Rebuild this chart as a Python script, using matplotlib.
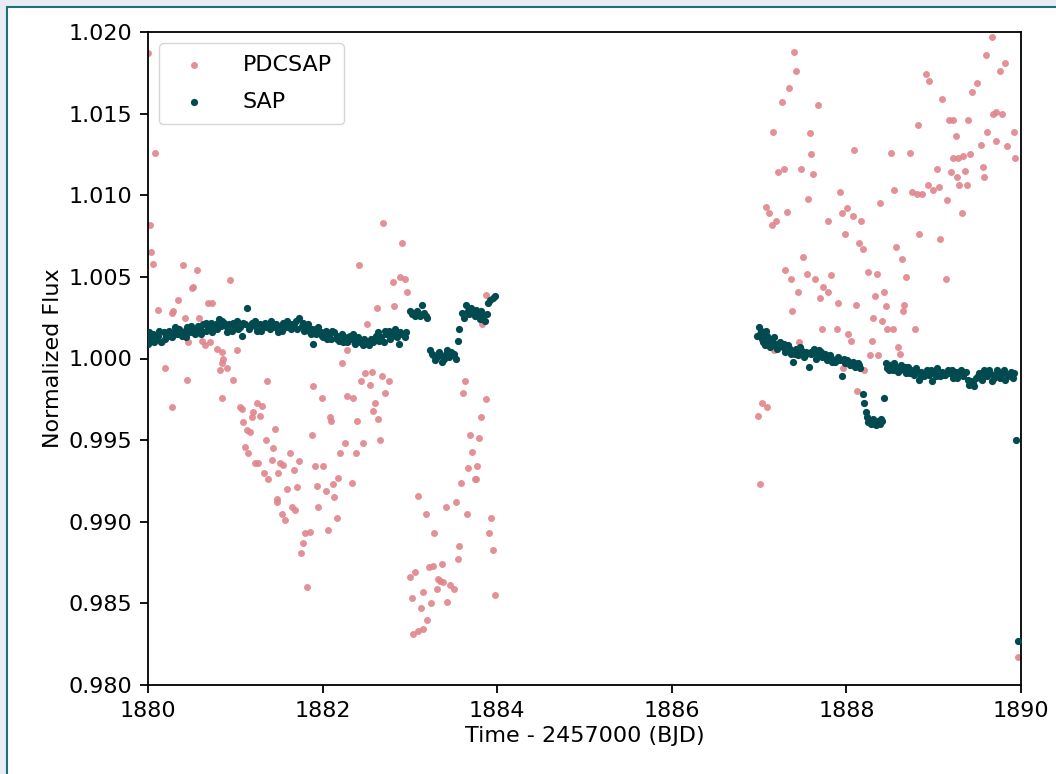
import numpy as np
import matplotlib
matplotlib.use("Agg")
from matplotlib import pyplot as plt
from matplotlib.patches import Rectangle

# PDCSAP flux (time - 2457000, normalized flux)
#--------------------------------------------------------------------------
pdc_time = [
    1880.00, 1880.08, 1880.02, 1880.04, 1880.06, 1880.40, 1880.56, 1880.52,
    1880.50, 1880.94, 1880.11, 1880.27, 1880.29, 1880.34, 1880.69, 1880.73,
    1880.42, 1880.58, 1880.46, 1880.62, 1880.65, 1880.71, 1880.79, 1880.16,
    1882.69, 1882.91, 1882.42, 1882.81, 1882.89, 1882.94, 1882.97, 1882.62,
    1882.82, 1882.51, 1882.74, 1880.19, 1880.45, 1880.28, 1880.85, 1880.86,
    1880.85, 1880.82, 1880.90, 1881.02, 1880.97, 1880.85, 1881.05, 1881.08,
    1881.25, 1881.31, 1881.20, 1881.19, 1881.28, 1881.09, 1881.13, 1881.17,
    1881.45, 1881.36, 1881.35, 1881.11, 1881.15, 1881.43, 1881.63, 1881.23,
    1881.26, 1881.42, 1881.51, 1881.55, 1881.73, 1881.33, 1881.38, 1881.49,
    1881.67, 1881.59, 1881.71, 1881.48, 1881.48, 1881.53, 1881.57, 1881.65,
    1881.68, 1881.80, 1881.85, 1881.77, 1881.75, 1881.82, 1881.89, 1881.99,
    1881.88, 1882.08, 1882.10, 1881.91, 1882.00, 1881.94, 1882.04, 1881.95,
    1882.12, 1882.18, 1882.13, 1882.16, 1882.06, 1882.20, 1882.26, 1882.22,
    1882.28, 1882.35, 1882.39, 1882.38, 1882.46, 1882.34, 1882.44, 1882.49,
    1882.57, 1882.54, 1882.68, 1882.76, 1882.72, 1882.60, 1882.58, 1882.64,
    1882.66, 1882.28, 1882.31, 1883.09, 1883.18, 1883.28, 1883.00, 1883.06,
    1883.22, 1883.26, 1883.15, 1883.02, 1883.13, 1883.24, 1883.20, 1883.04,
    1883.09, 1883.15, 1883.32, 1883.31, 1883.69, 1883.79, 1883.71, 1883.67,
    1883.77, 1883.74, 1883.76, 1883.59, 1883.41, 1883.53, 1883.65, 1883.93,
    1883.91, 1883.95, 1883.56, 1883.55, 1883.37, 1883.34, 1883.38, 1883.46,
    1883.51, 1883.42, 1883.97, 1883.87, 1883.83, 1883.63, 1883.61, 1883.87,
    1883.81,
    1887.40, 1887.42, 1887.34, 1887.26, 1887.67, 1887.16, 1887.58, 1887.60,
    1888.09, 1887.22, 1887.28, 1887.48, 1887.62, 1888.51, 1888.73, 1888.82,
    1888.91, 1888.95, 1889.10, 1889.17, 1889.22, 1889.39, 1889.26, 1889.44,
    1889.50, 1889.60, 1889.67, 1889.76, 1889.82, 1889.68, 1889.71, 1889.78,
    1889.92, 1889.93, 1889.61, 1889.71, 1889.84, 1889.54, 1889.22, 1889.28,
    1889.34, 1889.42, 1889.04, 1889.20, 1889.27, 1889.36, 1889.56, 1889.58,
    1889.29, 1889.38, 1888.93, 1889.06, 1888.99, 1888.75, 1888.81, 1888.87,
    1888.55, 1889.15, 1889.32, 1888.39, 1887.93, 1887.56, 1887.08, 1887.11,
    1887.15, 1887.19, 1887.32, 1887.95, 1888.01, 1888.08, 1888.17, 1887.79,
    1887.98, 1888.83, 1889.07, 1888.14, 1888.19, 1888.57, 1888.64, 1887.50,
    1889.14, 1888.68, 1887.30, 1887.37, 1887.55, 1887.64, 1887.82, 1888.25,
    1888.35, 1887.45, 1887.73, 1887.79, 1887.70, 1887.90, 1888.11, 1888.33,
    1888.43, 1888.45, 1888.66, 1888.65, 1887.38, 1888.30, 1888.41, 1887.72,
    1887.89, 1888.46, 1888.53, 1888.79, 1888.02, 1888.05, 1888.29, 1887.46,
    1887.17, 1888.59, 1888.61, 1888.27, 1888.36, 1888.20, 1887.96, 1888.12,
    1887.03, 1887.09, 1886.99, 1888.71, 1887.01, 1889.96,
]
pdc_flux = [
    1.0187, 1.0126, 1.0082, 1.0065, 1.0058, 1.0057, 1.0054, 1.0044,
    1.0043, 1.0048, 1.0030, 1.0028, 1.0029, 1.0036, 1.0034, 1.0034,
    1.0025, 1.0025, 1.0010, 1.0011, 1.0008, 1.0010, 1.0006, 1.0010,
    1.0083, 1.0071, 1.0057, 1.0047, 1.0050, 1.0049, 1.0041, 1.0031,
    1.0032, 1.0021, 1.0016, 0.9994, 0.9987, 0.9970, 1.0004, 1.0000,
    0.9997, 0.9993, 0.9994, 1.0005, 0.9987, 0.9976, 0.9970, 0.9969,
    0.9973, 0.9971, 0.9967, 0.9964, 0.9965, 0.9961, 0.9956, 0.9955,
    0.9957, 0.9986, 0.9950, 0.9946, 0.9942, 0.9945, 0.9942, 0.9936,
    0.9936, 0.9938, 0.9936, 0.9935, 0.9937, 0.9930, 0.9926, 0.9930,
    0.9932, 0.9920, 0.9921, 0.9914, 0.9912, 0.9905, 0.9901, 0.9909,
    0.9907, 0.9893, 0.9894, 0.9887, 0.9881, 0.9860, 0.9983, 0.9976,
    0.9953, 0.9964, 0.9962, 0.9934, 0.9934, 0.9922, 0.9919, 0.9909,
    0.9923, 0.9927, 0.9915, 0.9902, 0.9895, 0.9942, 0.9948, 0.9997,
    0.9977, 0.9976, 0.9962, 0.9942, 0.9948, 0.9924, 0.9986, 0.9991,
    0.9992, 0.9984, 0.9989, 0.9986, 0.9979, 0.9973, 0.9968, 0.9963,
    0.9950, 1.0005, 1.0011, 0.9916, 0.9905, 0.9893, 0.9866, 0.9869,
    0.9872, 0.9873, 0.9857, 0.9853, 0.9847, 0.9850, 0.9840, 0.9831,
    0.9833, 0.9834, 0.9865, 0.9859, 0.9953, 0.9951, 0.9943, 0.9933,
    0.9934, 0.9926, 0.9926, 0.9924, 0.9909, 0.9912, 0.9905, 0.9902,
    0.9893, 0.9883, 0.9885, 0.9877, 0.9874, 0.9864, 0.9863, 0.9861,
    0.9859, 0.9851, 0.9855, 1.0039, 1.0021, 0.9986, 0.9979, 0.9975,
    0.9964,
    1.0188, 1.0176, 1.0166, 1.0157, 1.0155, 1.0139, 1.0138, 1.0125,
    1.0128, 1.0114, 1.0116, 1.0116, 1.0113, 1.0126, 1.0126, 1.0143,
    1.0174, 1.0170, 1.0159, 1.0146, 1.0146, 1.0146, 1.0136, 1.0163,
    1.0169, 1.0186, 1.0197, 1.0176, 1.0181, 1.0150, 1.0151, 1.0150,
    1.0139, 1.0123, 1.0139, 1.0133, 1.0130, 1.0131, 1.0123, 1.0123,
    1.0124, 1.0125, 1.0116, 1.0114, 1.0111, 1.0115, 1.0117, 1.0111,
    1.0106, 1.0106, 1.0106, 1.0105, 1.0103, 1.0102, 1.0101, 1.0101,
    1.0103, 1.0097, 1.0089, 1.0095, 1.0102, 1.0098, 1.0093, 1.0089,
    1.0082, 1.0084, 1.0090, 1.0089, 1.0092, 1.0087, 1.0084, 1.0084,
    1.0076, 1.0076, 1.0073, 1.0071, 1.0067, 1.0068, 1.0061, 1.0062,
    1.0049, 1.0050, 1.0054, 1.0049, 1.0052, 1.0049, 1.0051, 1.0053,
    1.0052, 1.0041, 1.0044, 1.0041, 1.0037, 1.0034, 1.0033, 1.0038,
    1.0041, 1.0032, 1.0033, 1.0029, 1.0029, 1.0025, 1.0023, 1.0018,
    1.0018, 1.0018, 1.0018, 1.0018, 1.0015, 1.0011, 1.0011, 1.0010,
    1.0005, 1.0007, 1.0003, 1.0002, 1.0002, 0.9993, 0.9994, 0.9980,
    0.9973, 0.9970, 0.9965, 0.9991, 0.9923, 0.9817,
]

# SAP flux (time - 2457000, normalized flux)
#--------------------------------------------------------------------------
sap_time = [
    1880.00, 1880.02, 1880.04, 1880.06, 1880.09, 1880.12, 1880.15, 1880.18,
    1880.21, 1880.24, 1880.27, 1880.30, 1880.33, 1880.36, 1880.39, 1880.42,
    1880.45, 1880.48, 1880.51, 1880.54, 1880.57, 1880.60, 1880.63, 1880.66,
    1880.69, 1880.72, 1880.75, 1880.78, 1880.81, 1880.84, 1880.87, 1880.90,
    1880.93, 1880.96, 1880.99, 1881.02, 1881.05, 1881.08, 1881.11, 1881.13,
    1881.16, 1881.19, 1881.22, 1881.25, 1881.28, 1881.31, 1881.34, 1881.37,
    1881.40, 1881.43, 1881.46, 1881.49, 1881.52, 1881.55, 1881.58, 1881.61,
    1881.64, 1881.67, 1881.70, 1881.73, 1881.76, 1881.79, 1881.82, 1881.85,
    1881.88, 1881.89, 1881.92, 1881.95, 1881.98, 1882.01, 1882.04, 1882.07,
    1882.10, 1882.13, 1882.16, 1882.19, 1882.22, 1882.25, 1882.28, 1882.31,
    1882.34, 1882.37, 1882.40, 1882.43, 1882.46, 1882.49, 1882.52, 1882.55,
    1882.58, 1882.61, 1882.64, 1882.67, 1882.70, 1882.73, 1882.76, 1882.79,
    1882.82, 1882.85, 1882.88, 1882.91, 1882.94,
    1880.01, 1880.07, 1880.13, 1880.19, 1880.25, 1880.31, 1880.37, 1880.43,
    1880.49, 1880.55, 1880.61, 1880.67, 1880.73, 1880.79, 1880.85, 1880.91,
    1880.97, 1881.03, 1881.09, 1881.17, 1881.23, 1881.29, 1881.35, 1881.41,
    1881.47, 1881.53, 1881.59, 1881.65, 1881.71, 1881.77, 1881.83, 1881.87,
    1881.93, 1881.99, 1882.05, 1882.11, 1882.17, 1882.23, 1882.29, 1882.35,
    1882.41, 1882.47, 1882.53, 1882.59, 1882.65, 1882.71, 1882.77, 1882.83,
    1882.89, 1882.95,
    1883.00, 1883.02, 1883.04, 1883.06, 1883.08, 1883.10, 1883.12, 1883.14,
    1883.16, 1883.18, 1883.20, 1883.23, 1883.25, 1883.27, 1883.29, 1883.31,
    1883.33, 1883.35, 1883.37, 1883.39, 1883.41, 1883.43, 1883.45, 1883.47,
    1883.49, 1883.51, 1883.53, 1883.55, 1883.56, 1883.60, 1883.62, 1883.64,
    1883.66, 1883.68, 1883.70, 1883.72, 1883.74, 1883.76, 1883.78, 1883.80,
    1883.82, 1883.84, 1883.86, 1883.88, 1883.90, 1883.92, 1883.95, 1883.97,
    1886.98, 1887.00, 1887.02, 1887.03, 1887.05, 1887.07, 1887.09, 1887.11,
    1887.13, 1887.15, 1887.18, 1887.21, 1887.24, 1887.27, 1887.30, 1887.33,
    1887.36, 1887.39, 1887.42, 1887.45, 1887.48, 1887.51, 1887.54, 1887.57,
    1887.60, 1887.63, 1887.66, 1887.69, 1887.72, 1887.75, 1887.78, 1887.81,
    1887.84, 1887.87, 1887.90, 1887.93, 1887.95, 1887.98, 1888.01, 1888.04,
    1888.07, 1888.10, 1888.13, 1888.16, 1888.19, 1888.20, 1888.22, 1888.24,
    1888.26, 1888.28, 1888.30, 1888.32, 1888.34, 1888.36, 1888.38, 1888.40,
    1888.43, 1888.45, 1888.47, 1888.50, 1888.53, 1888.56, 1888.59, 1888.62,
    1888.65, 1888.68, 1888.71, 1888.74, 1888.77, 1888.80, 1888.83, 1888.86,
    1888.89, 1888.92, 1888.95, 1888.98, 1889.01, 1889.04, 1889.07, 1889.10,
    1889.13, 1889.16, 1889.19, 1889.22, 1889.25, 1889.28, 1889.31, 1889.34,
    1889.37, 1889.40, 1889.43, 1889.46, 1889.49, 1889.52, 1889.55, 1889.58,
    1889.61, 1889.64, 1889.67, 1889.70, 1889.73, 1889.76, 1889.79, 1889.82,
    1889.85, 1889.88, 1889.91, 1889.94, 1889.96,
    1887.01, 1887.04, 1887.08, 1887.12, 1887.17, 1887.23, 1887.29, 1887.35,
    1887.41, 1887.47, 1887.53, 1887.59, 1887.65, 1887.71, 1887.77, 1887.83,
    1887.89, 1887.97, 1888.03, 1888.09, 1888.15, 1888.25, 1888.29, 1888.33,
    1888.37, 1888.41, 1888.49, 1888.55, 1888.61, 1888.67, 1888.73, 1888.79,
    1888.85, 1888.91, 1888.97, 1889.03, 1889.09, 1889.15, 1889.21, 1889.27,
    1889.33, 1889.39, 1889.45, 1889.51, 1889.57, 1889.63, 1889.69, 1889.75,
    1889.81, 1889.87, 1889.92,
]
sap_flux = [
    1.0009, 1.0013, 1.0011, 1.0015, 1.0012, 1.0014, 1.0010, 1.0016,
    1.0014, 1.0017, 1.0013, 1.0016, 1.0015, 1.0018, 1.0014, 1.0017,
    1.0019, 1.0016, 1.0018, 1.0015, 1.0020, 1.0018, 1.0021, 1.0017,
    1.0019, 1.0022, 1.0018, 1.0021, 1.0024, 1.0020, 1.0022, 1.0019,
    1.0021, 1.0017, 1.0020, 1.0023, 1.0019, 1.0014, 1.0021, 1.0031,
    1.0018, 1.0022, 1.0020, 1.0017, 1.0021, 1.0019, 1.0022, 1.0020,
    1.0018, 1.0021, 1.0019, 1.0016, 1.0020, 1.0022, 1.0019, 1.0021,
    1.0018, 1.0020, 1.0023, 1.0025, 1.0020, 1.0017, 1.0019, 1.0016,
    1.0018, 1.0009, 1.0015, 1.0019, 1.0016, 1.0013, 1.0017, 1.0015,
    1.0012, 1.0016, 1.0014, 1.0011, 1.0015, 1.0013, 1.0010, 1.0014,
    1.0012, 1.0009, 1.0013, 1.0010, 1.0008, 1.0011, 1.0009, 1.0012,
    1.0010, 1.0014, 1.0016, 1.0013, 1.0010, 1.0015, 1.0017, 1.0014,
    1.0016, 1.0013, 1.0009, 1.0015, 1.0013,
    1.0016, 1.0010, 1.0017, 1.0012, 1.0014, 1.0019, 1.0015, 1.0013,
    1.0020, 1.0017, 1.0015, 1.0022, 1.0016, 1.0018, 1.0023, 1.0016,
    1.0022, 1.0018, 1.0022, 1.0020, 1.0023, 1.0017, 1.0019, 1.0023,
    1.0021, 1.0017, 1.0023, 1.0021, 1.0018, 1.0022, 1.0021, 1.0015,
    1.0018, 1.0014, 1.0012, 1.0017, 1.0012, 1.0010, 1.0013, 1.0015,
    1.0011, 1.0012, 1.0008, 1.0012, 1.0011, 1.0017, 1.0012, 1.0018,
    1.0016, 1.0016,
    1.0029, 1.0027, 1.0028, 1.0026, 1.0029, 1.0027, 1.0026, 1.0033,
    1.0028, 1.0026, 1.0025, 1.0005, 1.0003, 1.0002, 0.9999, 1.0001,
    1.0004, 1.0002, 0.9998, 1.0000, 1.0003, 1.0005, 1.0001, 1.0004,
    1.0002, 1.0003, 1.0000, 1.0011, 1.0018, 1.0028, 1.0025, 1.0033,
    1.0029, 1.0027, 1.0031, 1.0028, 1.0026, 1.0030, 1.0027, 1.0024,
    1.0029, 1.0026, 1.0023, 1.0027, 1.0034, 1.0036, 1.0037, 1.0038,
    1.0014, 1.0019, 1.0017, 1.0012, 1.0016, 1.0008, 1.0014, 1.0011,
    1.0007, 1.0012, 1.0009, 1.0006, 1.0010, 1.0007, 1.0004, 1.0008,
    1.0003, 0.9998, 1.0006, 1.0002, 1.0005, 1.0001, 1.0004, 0.9995,
    1.0003, 1.0006, 1.0002, 1.0005, 1.0001, 1.0003, 0.9999, 1.0002,
    1.0000, 0.9998, 1.0001, 0.9999, 0.9989, 0.9997, 0.9999, 0.9996,
    0.9998, 0.9995, 0.9997, 0.9994, 0.9978, 0.9973, 0.9967, 0.9964,
    0.9962, 0.9960, 0.9963, 0.9961, 0.9959, 0.9962, 0.9960, 0.9963,
    0.9976, 0.9997, 0.9994, 0.9996, 0.9993, 0.9995, 0.9992, 0.9996,
    0.9994, 0.9991, 0.9995, 0.9993, 0.9990, 0.9994, 0.9987, 0.9992,
    0.9989, 0.9993, 0.9990, 0.9986, 0.9991, 0.9994, 0.9989, 0.9992,
    0.9990, 0.9993, 0.9991, 0.9988, 0.9992, 0.9990, 0.9993, 0.9989,
    0.9992, 0.9984, 0.9986, 0.9983, 0.9988, 0.9991, 0.9987, 0.9993,
    0.9989, 0.9991, 0.9986, 0.9990, 0.9993, 0.9988, 0.9991, 0.9987,
    0.9990, 0.9992, 0.9988, 0.9950, 0.9827,
    1.0015, 1.0010, 1.0017, 1.0009, 1.0013, 1.0008, 1.0009, 1.0006,
    1.0003, 1.0007, 1.0002, 1.0004, 1.0000, 1.0004, 1.0002, 0.9998,
    0.9999, 1.0000, 0.9998, 0.9997, 0.9996, 0.9961, 0.9962, 0.9960,
    0.9961, 0.9962, 0.9993, 0.9997, 0.9993, 0.9995, 0.9991, 0.9992,
    0.9989, 0.9991, 0.9993, 0.9989, 0.9990, 0.9991, 0.9993, 0.9988,
    0.9991, 0.9987, 0.9985, 0.9989, 0.9990, 0.9993, 0.9988, 0.9991,
    0.9993, 0.9989, 0.9991,
]

pdc_color = '#e0858c'
sap_color = '#004a50'


def main():

    plt.rcParams['font.family'] = ['DejaVu Sans']
    plt.rcParams['font.size'] = 16
    plt.rcParams['axes.linewidth'] = 1.3
    for axis in ['xtick', 'ytick']:
        plt.rcParams[axis + '.major.size'] = 5.6
        plt.rcParams[axis + '.major.width'] = 1.3
        plt.rcParams[axis + '.major.pad'] = 5.6

    fig = plt.figure(figsize=(10.56, 7.74), dpi=100)
    fig.patch.set_facecolor('#e8eaf4')

    # white panel with a teal edge, page-style framing
    panel = Rectangle((7/1056, -0.05), 1.1, 1 - 7/774 + 0.05,
                      transform=fig.transFigure, facecolor='white',
                      edgecolor='#1f6e78', linewidth=1.5, zorder=-10)
    fig.patches.append(panel)

    ax = fig.add_axes([148/1056, 1 - 685/774, (1021 - 148)/1056, (685 - 32)/774])
    ax.scatter(pdc_time, pdc_flux, s=25, color=pdc_color, alpha=0.9,
               linewidths=0, label='PDCSAP', zorder=2)
    ax.scatter(sap_time, sap_flux, s=27, color=sap_color,
               linewidths=0, label='SAP', zorder=3)

    ax.set_xlim(1880, 1890)
    ax.set_ylim(0.980, 1.020)
    ax.set_xticks([1880, 1882, 1884, 1886, 1888, 1890])
    ax.set_yticks(np.arange(0.980, 1.0201, 0.005))
    ax.yaxis.set_major_formatter(plt.FormatStrFormatter('%.3f'))
    ax.set_xlabel("Time - 2457000 (BJD)")
    ax.set_ylabel("Normalized Flux")
    ax.legend(loc='upper left', scatterpoints=1, borderpad=0.55,
              labelspacing=0.75, handletextpad=1.2)

    fig.savefig('out.png', dpi=100, facecolor=fig.get_facecolor())


if __name__ == "__main__":
    main()
